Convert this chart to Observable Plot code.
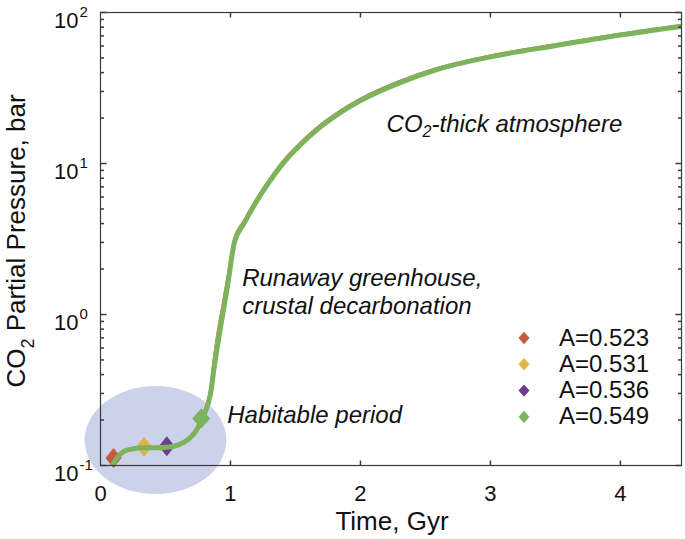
<!DOCTYPE html>
<html>
<head>
<meta charset="utf-8">
<script src="https://cdn.jsdelivr.net/npm/d3@7"></script>
<script src="https://cdn.jsdelivr.net/npm/@observablehq/plot@0.6"></script>
<style>
  html, body { margin: 0; padding: 0; background: #fff; }
  #chart { width: 685px; height: 539px; }
  svg { font-family: "Liberation Sans", Arial, Helvetica, sans-serif; }
</style>
</head>
<body>
<div id="chart"></div>
<script>
// ---------------- data ----------------
const timeGyr = [0.09, 0.13, 0.18, 0.25, 0.33, 0.42, 0.51, 0.60, 0.68, 0.74, 0.79, 0.83, 0.85, 0.87, 0.90, 0.94, 0.98, 1.03, 1.10, 1.20, 1.30, 1.40, 1.55, 1.70, 1.85, 2.00, 2.30, 2.60, 3.00, 3.50, 4.00, 4.47];
const pRed    = [0.100, 0.114, 0.125, 0.130, 0.132, 0.132, 0.133, 0.139, 0.153, 0.178, 0.222, 0.28, 0.35, 0.50, 0.76, 1.18, 1.85, 3.2, 4.15, 5.85, 7.9, 10.3, 14.1, 18.3, 22.6, 26.9, 35.2, 43.2, 52.0, 61.6, 72.3, 82.5];
const pOrange = [0.100, 0.114, 0.125, 0.130, 0.132, 0.132, 0.133, 0.138, 0.152, 0.176, 0.220, 0.28, 0.34, 0.48, 0.73, 1.14, 1.80, 3.15, 4.1, 5.8, 7.85, 10.2, 14.0, 18.2, 22.5, 26.7, 35.0, 43.0, 51.8, 61.3, 72.0, 82.2];
const pPurple = [0.100, 0.113, 0.124, 0.129, 0.131, 0.131, 0.132, 0.138, 0.151, 0.174, 0.216, 0.27, 0.33, 0.45, 0.68, 1.08, 1.70, 3.05, 4.0, 5.7, 7.7, 10.05, 13.8, 17.9, 22.2, 26.4, 34.6, 42.6, 51.3, 60.8, 71.4, 81.6];
const pGreen  = [0.100, 0.113, 0.124, 0.129, 0.131, 0.131, 0.132, 0.137, 0.150, 0.172, 0.212, 0.26, 0.31, 0.42, 0.62, 1.00, 1.60, 3.0, 3.95, 5.6, 7.6, 9.9, 13.6, 17.7, 21.9, 26.1, 34.2, 42.2, 50.8, 60.3, 70.9, 81.0];

const seriesNames  = ["A=0.523", "A=0.531", "A=0.536", "A=0.549"];
const seriesColors = ["#c65a3e", "#e2b347", "#6c3d8e", "#7db35c"];
const markerTime   = [0.10, 0.335, 0.51, 0.775];
const markerP      = [0.112, 0.133, 0.134, 0.205];

const xTicks = [0, 1, 2, 3, 4];
const yMajor = [0.1, 1, 10, 100];
const yExp   = ["-1", "0", "1", "2"];
const yMinor = [0.2,0.3,0.4,0.5,0.6,0.7,0.8,0.9, 2,3,4,5,6,7,8,9, 20,30,40,50,60,70,80,90];

const annText = ["Runaway greenhouse,", "crustal decarbonation", "Habitable period"];
const annX    = [1.09, 1.09, 0.975];
const annY    = [1.556, 1.015, 0.19];

// habitable-period ellipse, bounding box in data units
const ellX = [-0.118, 0.972];
const ellY = [0.0642, 0.333];

// ---------------- helpers ----------------
const series = [pRed, pOrange, pPurple, pGreen].map((p, s) =>
  timeGyr.map((t, i) => ({t, p: p[i], s: seriesNames[s]})));
const markers = seriesNames.map((s, i) => ({s, t: markerTime[i], p: markerP[i], c: seriesColors[i]}));

const diamondSym = (hw, hh) => ({
  draw(ctx) {
    ctx.moveTo(0, -hh); ctx.lineTo(hw, 0); ctx.lineTo(0, hh); ctx.lineTo(-hw, 0); ctx.closePath();
  }
});
const tickSym = (dx, dy) => ({draw(ctx) { ctx.moveTo(0, 0); ctx.lineTo(dx, dy); }});
const axisColor = "#3a3a3a";
const font = "'Liberation Sans', Arial, Helvetica, sans-serif";

const X1 = 4.47;

const ellipseMark = (index, scales) => {
  const x0 = scales.x(ellX[0]), x1 = scales.x(ellX[1]);
  const y0 = scales.y(ellY[0]), y1 = scales.y(ellY[1]);
  return d3.create("svg:ellipse")
    .attr("cx", (x0 + x1) / 2).attr("cy", (y0 + y1) / 2)
    .attr("rx", Math.abs(x1 - x0) / 2).attr("ry", Math.abs(y1 - y0) / 2)
    .attr("fill", "#cdd2eb").node();
};

const co2ThickMark = (index, scales) => {
  const t = d3.create("svg:text")
    .attr("x", scales.x(2.205)).attr("y", scales.y(16.0))
    .attr("text-anchor", "start")
    .attr("font-size", 24).attr("font-style", "italic").attr("font-family", font).attr("fill", "#111");
  t.append("tspan").text("CO");
  t.append("tspan").attr("font-size", 16).attr("dy", 5).text("2");
  t.append("tspan").attr("dy", -5).text("-thick atmosphere");
  return t.node();
};

const yTitleMark = () => {
  const t = d3.create("svg:text")
    .attr("transform", "translate(25,241) rotate(-90)")
    .attr("text-anchor", "middle")
    .attr("font-size", 26).attr("font-family", font).attr("fill", "#111");
  t.append("tspan").text("CO");
  t.append("tspan").attr("font-size", 18).attr("dy", 9).text("2");
  t.append("tspan").attr("dy", -9).text(" Partial Pressure, bar");
  return t.node();
};

const xTitleMark = () =>
  d3.create("svg:text").attr("x", 392).attr("y", 530).attr("text-anchor", "middle")
    .attr("font-size", 26).attr("font-family", font).attr("fill", "#111").text("Time, Gyr").node();

const legendMark = () => {
  const g = d3.create("svg:g").attr("font-family", font).attr("text-anchor", "start");
  const sym = diamondSym(5.5, 6.2);
  seriesNames.forEach((name, i) => {
    const y = 338 + i * 26.3;
    const p = d3.path();
    sym.draw(p);
    g.append("path").attr("d", p.toString()).attr("transform", `translate(524,${y})`).attr("fill", seriesColors[i]);
    g.append("text").attr("x", 559).attr("y", y + 7.5).attr("font-size", 24).attr("fill", "#111").text(name);
  });
  return g.node();
};

// ---------------- plot ----------------
const chart = Plot.plot({
  width: 685,
  height: 539,
  marginLeft: 100,
  marginRight: 4,
  marginTop: 12,
  marginBottom: 74,
  style: {fontFamily: font, background: "white", overflow: "visible"},
  x: {domain: [0, X1], axis: null},
  y: {type: "log", domain: [0.1, 100], axis: null},
  marks: [
    ellipseMark,
    ...[0, 1, 2].map(s => Plot.line(series[s], {x: "t", y: "p", stroke: seriesColors[s], strokeWidth: 2, curve: "monotone-x", clip: true})),
    Plot.dot(markers.slice(0, 3), {x: "t", y: "p", fill: "c", symbol: diamondSym(8, 10), r: 9}),
    Plot.line(series[3], {x: "t", y: "p", stroke: seriesColors[3], strokeWidth: 5, curve: "monotone-x", clip: true}),
    Plot.dot(markers.slice(3), {x: "t", y: "p", fill: "c", symbol: diamondSym(9, 10), r: 9}),
    Plot.frame({stroke: axisColor, strokeWidth: 1.2}),
    // ticks (inward)
    Plot.dot(xTicks.slice(1), {x: d => d, y: 0.1, symbol: tickSym(0, -5), stroke: axisColor, fill: "none"}),
    Plot.dot(xTicks.slice(1), {x: d => d, y: 100, symbol: tickSym(0, 5), stroke: axisColor, fill: "none"}),
    Plot.dot(yMajor, {x: 0, y: d => d, symbol: tickSym(6, 0), stroke: axisColor, fill: "none"}),
    Plot.dot(yMajor, {x: X1, y: d => d, symbol: tickSym(-6, 0), stroke: axisColor, fill: "none"}),
    Plot.dot(yMinor, {x: 0, y: d => d, symbol: tickSym(3.5, 0), stroke: axisColor, fill: "none"}),
    Plot.dot(yMinor, {x: X1, y: d => d, symbol: tickSym(-3.5, 0), stroke: axisColor, fill: "none"}),
    // tick labels
    Plot.text(xTicks, {x: d => d, y: 0.1, text: d => String(d), dy: 35, lineAnchor: "bottom", fontSize: 22, fill: "#111"}),
    Plot.text(yMajor, {x: 0, y: d => d, text: () => "10", textAnchor: "end", dx: -22, dy: 15, lineAnchor: "bottom", fontSize: 22, fill: "#111"}),
    Plot.text(yMajor, {x: 0, y: d => d, text: yExp, textAnchor: "start", dx: -21, dy: 4, lineAnchor: "bottom", fontSize: 15, fill: "#111"}),
    // annotations
    Plot.text(annText, {x: annX, y: annY, text: d => d, textAnchor: "start", lineAnchor: "bottom", fontSize: 24, fontStyle: "italic", fill: "#111"}),
    co2ThickMark,
    legendMark,
    xTitleMark,
    yTitleMark
  ]
});
document.getElementById("chart").appendChild(chart);
</script>
</body>
</html>
